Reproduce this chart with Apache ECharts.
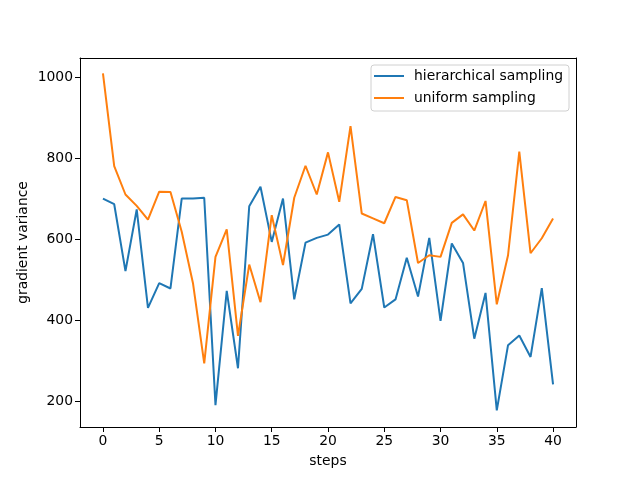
<!DOCTYPE html>
<html><head><meta charset="utf-8">
<script src="https://cdn.jsdelivr.net/npm/echarts@6/dist/echarts.min.js"></script>
<style>html,body{margin:0;padding:0;background:#fff}#c{width:640px;height:480px}</style>
</head><body><div id="c"></div>
<script>
const steps = Array.from({length: 41}, (_, i) => i);
const hierarchical = [700,686,521,673,430,491,478,700,700,702,190,472,281,681,729,593,700,451,591,603,611,636,441,477,612,431,451,554,458,603,398,589,541,354,467,177,338,362,309,479,241];
const uniform = [1009,780,710,682,648,717,716,618,491,293,556,624,361,537,444,659,536,702,781,710,814,692,879,663,651,639,704,696,541,560,556,640,661,621,694,439,560,816,565,602,651];
const xTicks = [0,5,10,15,20,25,30,35,40];
const yTicks = [200,400,600,800,1000];
const font = 'DejaVu Sans';
const fs = 13.9;
const chart = echarts.init(document.getElementById('c'));
const frameAxis = {axisLine: {show: true, onZero: false, lineStyle: {color: '#000', width: 1}}, axisTick: {show: false}, axisLabel: {show: false}, splitLine: {show: false}};
chart.setOption({
  animation: false,
  grid: {left: 80, right: 64, top: 58, bottom: 53},
  legend: {
    orient: 'vertical', right: 71, top: 65,
    data: ['hierarchical sampling', 'uniform sampling'],
    icon: 'rect', itemWidth: 30, itemHeight: 2, itemGap: 8,
    textStyle: {fontFamily: font, fontSize: fs, color: '#000', padding: [0, 0, 0, 5]},
    borderColor: '#d0d0d0', borderWidth: 1, borderRadius: 3, padding: [4, 6, 6, 3],
    backgroundColor: '#fff'
  },
  xAxis: [{
    type: 'value', min: -2.04, max: 42.04, position: 'bottom',
    name: 'steps', nameLocation: 'middle', nameGap: 27, nameMoveOverlap: false,
    nameTextStyle: {fontFamily: font, fontSize: fs, color: '#000'},
    axisLine: {show: true, onZero: false, lineStyle: {color: '#000'}},
    axisTick: {show: true, customValues: xTicks, length: 5, lineStyle: {color: '#000'}},
    axisLabel: {customValues: xTicks, fontFamily: font, fontSize: fs, color: '#000', margin: 7},
    splitLine: {show: false}
  }, Object.assign({type: 'value', min: -2.04, max: 42.04, position: 'top'}, frameAxis)],
  yAxis: [{
    type: 'value', min: 136, max: 1047, position: 'left',
    name: 'gradient variance', nameLocation: 'middle', nameGap: 50, nameRotate: 90, nameMoveOverlap: false,
    nameTextStyle: {fontFamily: font, fontSize: fs, color: '#000'},
    axisLine: {show: true, onZero: false, lineStyle: {color: '#000'}},
    axisTick: {show: true, customValues: yTicks, length: 5, lineStyle: {color: '#000'}},
    axisLabel: {customValues: yTicks, formatter: v => String(v), fontFamily: font, fontSize: fs, color: '#000', margin: 7},
    splitLine: {show: false}
  }, Object.assign({type: 'value', min: 136, max: 1047, position: 'right'}, frameAxis)],
  series: [
    {name: 'hierarchical sampling', type: 'line', data: steps.map((s, i) => [s, hierarchical[i]]),
     showSymbol: false, symbol: 'none', lineStyle: {color: '#1f77b4', width: 2}, itemStyle: {color: '#1f77b4'}},
    {name: 'uniform sampling', type: 'line', data: steps.map((s, i) => [s, uniform[i]]),
     showSymbol: false, symbol: 'none', lineStyle: {color: '#ff7f0e', width: 2}, itemStyle: {color: '#ff7f0e'}}
  ]
});
</script></body></html>
